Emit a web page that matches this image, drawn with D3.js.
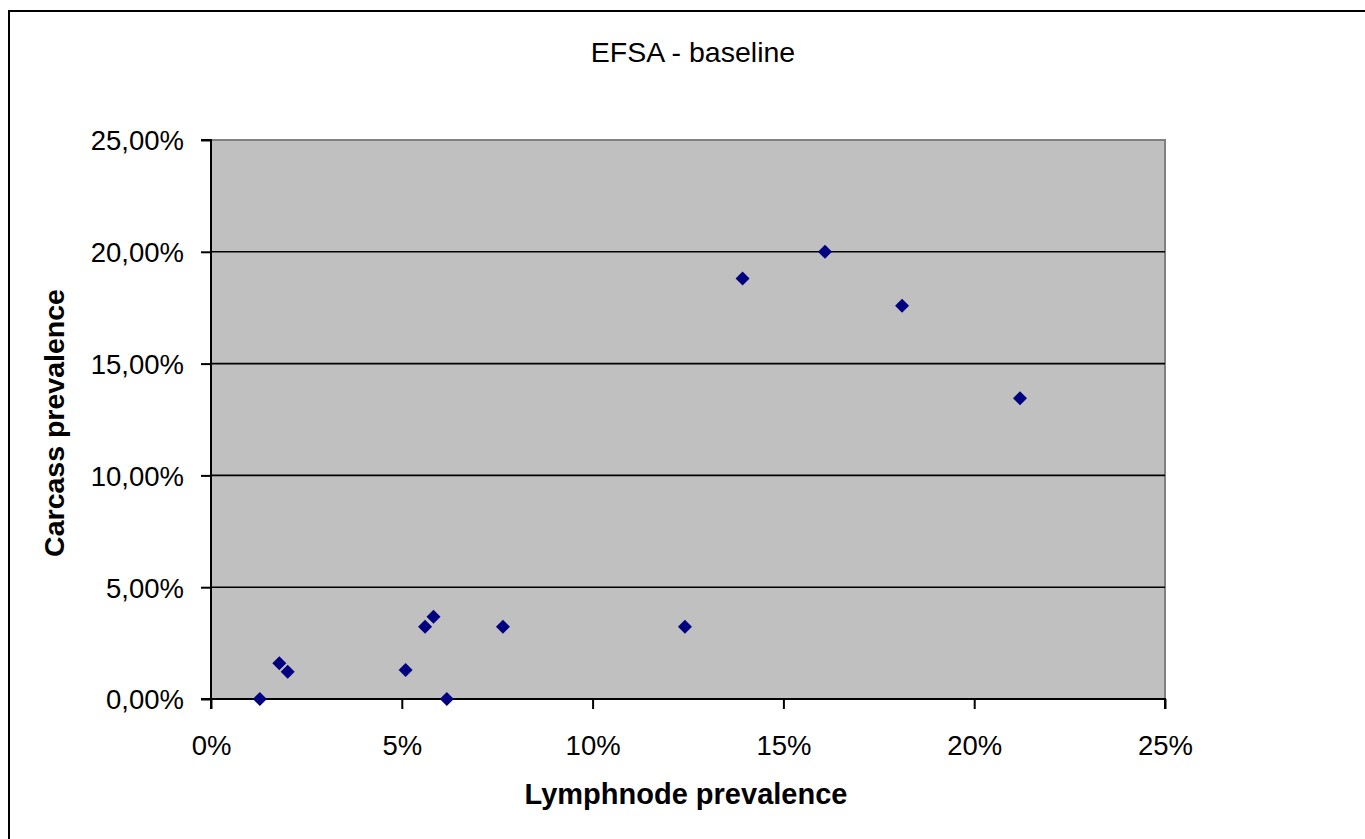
<!DOCTYPE html>
<html><head><meta charset="utf-8">
<script src="https://cdn.jsdelivr.net/npm/d3@7"></script>
<style>html,body{margin:0;padding:0;background:#fff;overflow:hidden}</style>
</head><body>
<svg id="c" width="1365" height="839"></svg>
<script>
const title = "EFSA - baseline";
const xTitle = "Lymphnode prevalence";
const yTitle = "Carcass prevalence";
const lymphnode = [0.0128, 0.0179, 0.0201, 0.0510, 0.0561, 0.0583, 0.0618, 0.0765, 0.1242, 0.1393, 0.1609, 0.1811, 0.2120];
const carcass   = [0.0000, 0.0160, 0.0122, 0.0130, 0.0323, 0.0368, 0.0000, 0.0323, 0.0323, 0.1881, 0.2000, 0.1759, 0.1345];
const xTicks = [0, 0.05, 0.10, 0.15, 0.20, 0.25];
const yTicks = [0, 0.05, 0.10, 0.15, 0.20, 0.25];

const svg = d3.select("#c");
const L = 211, R = 1165, T = 140, B = 699;
const x = d3.scaleLinear().domain([0, 0.25]).range([L, R]);
const y = d3.scaleLinear().domain([0, 0.25]).range([B, T]);
const FONT = "Liberation Sans, Arial, sans-serif";

// outer border
svg.append("rect").attr("x", 9).attr("y", 11).attr("width", 1400).attr("height", 900)
  .attr("fill", "none").attr("stroke", "#000").attr("stroke-width", 2);

// plot area
svg.append("rect").attr("x", L).attr("y", T).attr("width", R - L).attr("height", B - T)
  .attr("fill", "#c0c0c0").attr("stroke", "#808080").attr("stroke-width", 2);

// gridlines
svg.append("g").selectAll("line").data(yTicks.filter(d => d > 0 && d < 0.25)).join("line")
  .attr("x1", L).attr("x2", R).attr("y1", d => y(d)).attr("y2", d => y(d))
  .attr("stroke", "#000").attr("stroke-width", 1.6);

const fmtY = d => (d * 100).toFixed(2).replace(".", ",") + "%";
const fmtX = d => Math.round(d * 100) + "%";

const yAxis = svg.append("g").attr("transform", `translate(${L},0)`)
  .call(d3.axisLeft(y).tickValues(yTicks).tickFormat(fmtY).tickSize(10).tickPadding(17));
const xAxis = svg.append("g").attr("transform", `translate(0,${B})`)
  .call(d3.axisBottom(x).tickValues(xTicks).tickFormat(fmtX).tickSize(10).tickPadding(46));
[yAxis, xAxis].forEach(g => {
  g.attr("font-size", null).attr("font-family", null);
  g.select(".domain").attr("stroke", "#000").attr("stroke-width", 2);
  g.selectAll(".tick line").attr("stroke", "#000").attr("stroke-width", 2);
  g.selectAll("text").attr("font-family", FONT)
    .attr("font-size", 27.5).attr("fill", "#000");
});
yAxis.select(".domain").attr("d", `M-10,${T}H0V${B}H-10`);
xAxis.select(".domain").attr("d", `M${L},10V0H${R}V10`);
yAxis.selectAll("text").attr("dy", "0.36em");
xAxis.selectAll("text").attr("dy", null);

// points
svg.append("g").selectAll("path").data(lymphnode.map((v, i) => [v, carcass[i]])).join("path")
  .attr("transform", d => `translate(${x(d[0])},${y(d[1])})`)
  .attr("d", "M0,-7L7,0L0,7L-7,0Z").attr("fill", "#000080");

// titles
svg.append("text").attr("x", 693).attr("y", 62).attr("text-anchor", "middle")
  .attr("font-family", FONT).attr("font-size", 28.5).text(title);
svg.append("text").attr("x", 686).attr("y", 804).attr("text-anchor", "middle")
  .attr("font-family", FONT).attr("font-size", 29)
  .attr("font-weight", "bold").text(xTitle);
svg.append("text").attr("transform", "translate(64,423) rotate(-90)").attr("text-anchor", "middle")
  .attr("font-family", FONT).attr("font-size", 28.5)
  .attr("font-weight", "bold").text(yTitle);
</script>
</body></html>
